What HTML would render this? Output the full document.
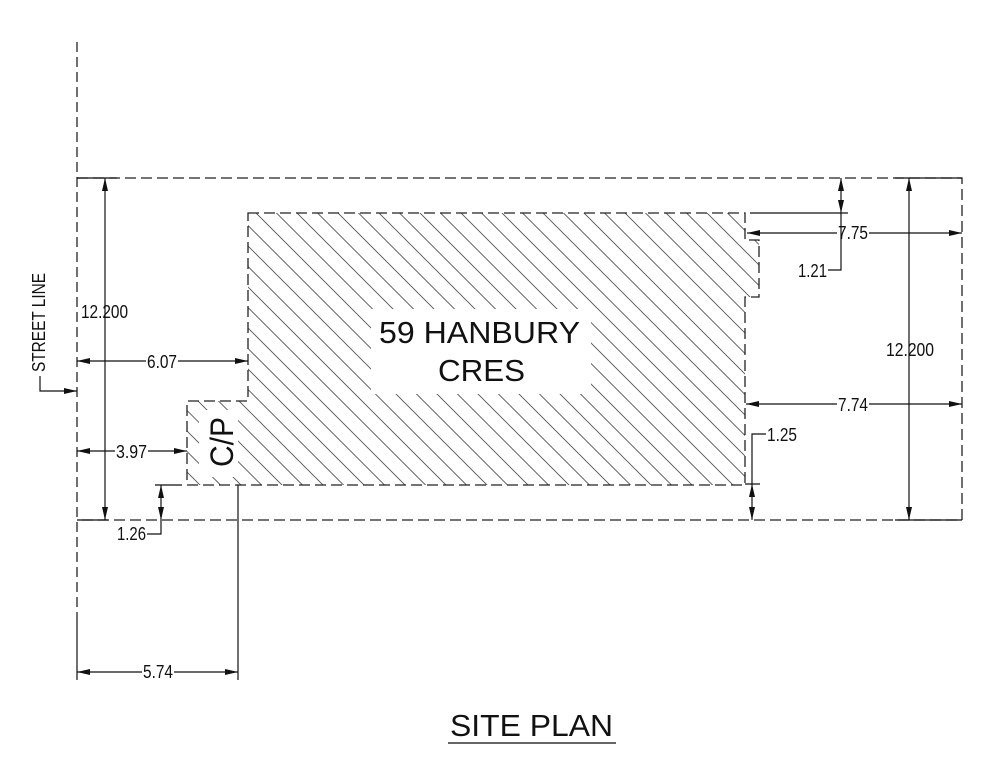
<!DOCTYPE html>
<html>
<head>
<meta charset="utf-8">
<style>
html,body{margin:0;padding:0;background:#fff;}
svg{display:block;}
text{font-family:"Liberation Sans",Arial,sans-serif;fill:#111;}
</style>
</head>
<body>
<svg width="984" height="771" viewBox="0 0 984 771" xmlns="http://www.w3.org/2000/svg">
<defs>
<clipPath id="bld">
<polygon points="248,213 745,213 745,240 759,240 759,297 745,297 745,485 187,485 187,401 248,401"/>
</clipPath>
</defs>
<rect width="984" height="771" fill="#fff"/>

<!-- hatch -->
<g clip-path="url(#bld)">
<path fill="none" stroke="#555" stroke-width="0.9" d="M-105.5 200l300 300M-85 200l300 300M-64.5 200l300 300M-44 200l300 300M-23.5 200l300 300M-3 200l300 300M17.5 200l300 300M38 200l300 300M58.5 200l300 300M79 200l300 300M99.5 200l300 300M120 200l300 300M140.5 200l300 300M161 200l300 300M181.5 200l300 300M202 200l300 300M222.5 200l300 300M243 200l300 300M263.5 200l300 300M284 200l300 300M304.5 200l300 300M325 200l300 300M345.5 200l300 300M366 200l300 300M386.5 200l300 300M407 200l300 300M427.5 200l300 300M448 200l300 300M468.5 200l300 300M489 200l300 300M509.5 200l300 300M530 200l300 300M550.5 200l300 300M571 200l300 300M591.5 200l300 300M612 200l300 300M632.5 200l300 300M653 200l300 300M673.5 200l300 300M694 200l300 300M714.5 200l300 300M735 200l300 300"/>
<rect x="371" y="309" width="220" height="85" fill="#fff"/>
<rect x="199" y="410" width="39" height="67" fill="#fff"/>
</g>

<!-- building outline -->
<polygon points="248,213 745,213 745,240 759,240 759,297 745,297 745,485 187,485 187,401 248,401" fill="none" stroke="#222" stroke-width="1.3" stroke-dasharray="11 5"/>

<!-- lot boundary -->
<path d="M77 178H962V520H77" fill="none" stroke="#222" stroke-width="1.3" stroke-dasharray="11 5"/>
<!-- street line -->
<path d="M77 42V620" fill="none" stroke="#222" stroke-width="1.3" stroke-dasharray="10 5"/>

<!-- solid lines -->
<path fill="none" stroke="#111" stroke-width="1.2" d="
M77 620V680
M77 178H117 M895 178H962 M77 520H108 M895 520H962
M77 361H146 M178 361H248
M77 451H115 M148 451H187
M77 672H142 M174 672H238
M747 233H837 M869 233H962
M746 404H837 M869 404H962
M105 178V520
M909 178V520
M841 178V270H828 M750 213H848
M161 485V534H147 M155 485H182
M752 520V434H766 M745 484H760
M238 485V680
M40 376V391H77
"/>

<!-- arrowheads -->
<g fill="#111">
<polygon points="77,361 90,358 90,364"/>
<polygon points="248,361 235,358 235,364"/>
<polygon points="77,451 90,448 90,454"/>
<polygon points="187,451 174,448 174,454"/>
<polygon points="77,672 90,669 90,675"/>
<polygon points="238,672 225,669 225,675"/>
<polygon points="747,233 760,230 760,236"/>
<polygon points="962,233 949,230 949,236"/>
<polygon points="746,404 759,401 759,407"/>
<polygon points="962,404 949,401 949,407"/>
<polygon points="77,391 64,388 64,394"/>
<polygon points="105,178 102,191 108,191"/>
<polygon points="105,520 102,507 108,507"/>
<polygon points="909,178 906,191 912,191"/>
<polygon points="909,520 906,507 912,507"/>
<polygon points="841,178 838,191 844,191"/>
<polygon points="841,213 838,200 844,200"/>
<polygon points="161,485 158,498 164,498"/>
<polygon points="161,520 158,507 164,507"/>
<polygon points="752,484 749,497 755,497"/>
<polygon points="752,520 749,507 755,507"/>
</g>

<!-- dimension text -->
<g font-size="18">
<text x="147" y="368" textLength="30" lengthAdjust="spacingAndGlyphs">6.07</text>
<text x="116" y="458" textLength="31" lengthAdjust="spacingAndGlyphs">3.97</text>
<text x="143" y="678" textLength="30" lengthAdjust="spacingAndGlyphs">5.74</text>
<text x="81" y="318" textLength="47" lengthAdjust="spacingAndGlyphs">12.200</text>
<text x="886" y="356" textLength="48" lengthAdjust="spacingAndGlyphs">12.200</text>
<text x="838" y="239" textLength="30" lengthAdjust="spacingAndGlyphs">7.75</text>
<text x="838" y="411" textLength="30" lengthAdjust="spacingAndGlyphs">7.74</text>
<text x="798" y="277" textLength="29" lengthAdjust="spacingAndGlyphs">1.21</text>
<text x="767" y="441" textLength="30" lengthAdjust="spacingAndGlyphs">1.25</text>
<text x="117" y="540" textLength="29" lengthAdjust="spacingAndGlyphs">1.26</text>
<text transform="translate(45,322.5) rotate(-90)" x="0" y="0" text-anchor="middle" textLength="99" lengthAdjust="spacingAndGlyphs">STREET LINE</text>
</g>

<!-- labels -->
<text x="379" y="343" font-size="31" textLength="201" lengthAdjust="spacingAndGlyphs">59 HANBURY</text>
<text x="438" y="381" font-size="31" textLength="87" lengthAdjust="spacingAndGlyphs">CRES</text>
<text transform="translate(233,442) rotate(-90)" x="0" y="0" font-size="32" text-anchor="middle" textLength="50" lengthAdjust="spacingAndGlyphs">C/P</text>

<!-- title -->
<text x="450" y="736" font-size="31" textLength="163" lengthAdjust="spacingAndGlyphs">SITE PLAN</text>
<rect x="448" y="742" width="168" height="2" fill="#666"/>
</svg>
</body>
</html>
